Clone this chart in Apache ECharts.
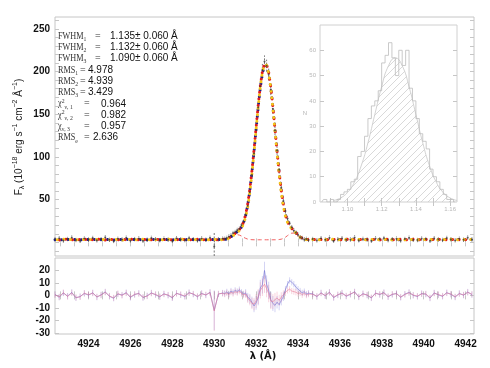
<!DOCTYPE html>
<html><head><meta charset="utf-8">
<script src="https://cdn.jsdelivr.net/npm/echarts@6/dist/echarts.min.js"></script>
<style>html,body{margin:0;padding:0;background:#fff}#c{width:490px;height:368px}</style>
</head><body><div id="c"></div>
<script>
// ---------------- data ----------------
const wave = [
4922.4,4922.6,4922.8,4923.0,4923.2,4923.4,4923.6,4923.8,4924.0,4924.2,
4924.4,4924.6,4924.8,4925.0,4925.2,4925.4,4925.6,4925.8,4926.0,4926.2,
4926.4,4926.6,4926.8,4927.0,4927.2,4927.4,4927.6,4927.8,4928.0,4928.2,
4928.4,4928.6,4928.8,4929.0,4929.2,4929.4,4929.6,4929.8,4930.0,4930.2,
4930.4,
4930.5,4930.6,4930.7,4930.8,4930.9,4931.0,4931.1,4931.2,4931.3,4931.4,
4931.5,4931.6,4931.7,4931.8,4931.9,4932.0,4932.1,4932.2,4932.3,4932.4,
4932.5,4932.6,4932.7,4932.8,4932.9,4933.0,4933.1,4933.2,4933.3,4933.4,
4933.5,4933.6,4933.7,4933.8,4933.9,4934.0,4934.1,4934.2,4934.3,4934.4,
4934.5,
4934.7,4934.9,4935.1,4935.3,4935.5,4935.7,4935.9,4936.1,4936.3,4936.5,
4936.7,4936.9,4937.1,4937.3,4937.5,4937.7,4937.9,4938.1,4938.3,4938.5,
4938.7,4938.9,4939.1,4939.3,4939.5,4939.7,4939.9,4940.1,4940.3,4940.5,
4940.7,4940.9,4941.1,4941.3,4941.5,4941.7,4941.9,4942.1,4942.3];

const fluxObs = [
3.5,4.8,2.1,3.9,5.6,2.7,1.8,4.4,3.2,5.1,2.4,3.7,6.0,2.9,1.6,4.1,3.3,5.4,2.2,3.8,
4.6,1.9,3.0,5.2,3.6,2.5,4.3,3.1,1.7,4.9,3.4,2.6,5.0,3.7,2.3,4.5,3.0,5.3,-5.0,3.6,4.2,
4.1,5.2,6.8,8.0,10.9,12.1,14.5,16.0,20.2,24.0,32.5,43.0,58.6,79.0,104.0,131.5,158.0,183.0,202.0,212.0,
207.0,196.5,179.0,156.5,131.0,107.5,85.0,64.0,48.5,36.8,28.0,22.5,17.5,14.0,11.3,8.9,6.0,5.1,3.4,4.0,2.8,
3.9,2.4,4.7,3.1,5.5,2.0,3.6,4.8,2.9,3.3,5.8,2.5,4.0,3.2,1.9,4.6,3.7,5.0,2.6,3.5,
4.3,2.2,3.9,5.4,3.0,2.7,4.4,3.8,1.8,4.9,3.3,2.8,5.1,3.6,2.4,4.2,3.0,5.6,3.4];

const fluxErr = [
2.5,2.5,2.5,2.5,2.5,2.5,2.5,2.5,2.5,2.5,2.5,2.5,2.5,2.5,2.5,2.5,2.5,2.5,2.5,2.5,
2.5,2.5,2.5,2.5,2.5,2.5,2.5,2.5,2.5,2.5,2.5,2.5,2.5,2.5,2.5,2.5,2.5,2.5,16,2.5,2.5,
2.5,2.5,2.5,2.5,2.5,2.5,2.5,2.5,2.5,2.5,3,3.5,4,4.5,5,5.5,6,6.5,7,7,
7,7,6.5,6,5.5,5,4.5,4,3.5,3,2.5,2.5,2.5,2.5,2.5,2.5,2.5,2.5,2.5,2.5,2.5,
2.5,2.5,2.5,2.5,2.5,2.5,2.5,2.5,2.5,2.5,2.5,2.5,2.5,2.5,2.5,2.5,2.5,2.5,2.5,2.5,
2.5,2.5,2.5,2.5,2.5,2.5,2.5,2.5,2.5,2.5,2.5,2.5,2.5,2.5,2.5,2.5,2.5,2.5,2.5];

const model1 = [
3.1,3.4,2.9,3.3,3.8,3.0,2.7,3.5,3.2,3.6,2.9,3.3,3.9,3.0,2.6,3.4,3.2,3.7,2.8,3.3,
3.5,2.7,3.1,3.6,3.3,2.9,3.4,3.1,2.7,3.6,3.2,2.9,3.7,3.3,2.8,3.5,3.1,3.6,3.0,3.3,3.4,
3.3,3.9,4.9,6.3,8.3,10.3,12.3,14.5,17.7,22.8,31.3,43.8,60.7,81.9,106.4,132.6,158.3,181.0,197.8,206.8,
206.8,197.8,181.0,158.3,132.6,106.4,82.1,61.1,44.6,32.6,24.8,20.0,16.8,14.1,11.5,8.8,6.4,4.8,3.8,3.3,3.1,
3.3,2.9,3.5,3.1,3.7,2.8,3.2,3.6,3.0,3.3,3.8,2.9,3.4,3.1,2.7,3.5,3.2,3.6,2.9,3.3,
3.4,2.8,3.2,3.7,3.1,3.0,3.5,3.3,2.7,3.6,3.2,3.0,3.6,3.3,2.9,3.4,3.1,3.7,3.2];

const model2 = [
3.6,2.8,3.3,3.9,3.0,2.6,3.4,3.7,2.9,3.2,3.8,3.1,2.7,3.5,3.3,2.9,3.6,3.0,3.4,3.9,
2.8,3.2,3.5,2.9,3.1,3.7,3.3,2.6,3.4,3.0,3.8,3.2,2.8,3.5,3.6,2.9,3.3,3.1,3.4,2.8,3.6,
3.5,4.0,5.1,6.5,8.6,10.6,12.6,14.9,18.3,23.6,32.4,45.2,62.4,83.8,108.5,134.9,160.7,183.5,200.3,209.0,
208.5,199.4,182.1,159.0,133.0,106.6,82.0,60.8,44.2,32.1,24.3,19.6,16.5,13.9,11.4,8.7,6.4,4.8,3.9,3.4,3.2,
3.0,3.6,3.2,2.8,3.4,3.5,2.9,3.1,3.7,3.2,3.0,3.5,2.8,3.3,3.6,3.1,2.9,3.4,3.8,3.0,
3.2,3.6,2.7,3.3,3.5,3.1,2.9,3.4,3.6,3.0,3.3,3.7,2.8,3.2,3.5,3.1,3.4,2.9,3.6];

const model3 = [
2.9,3.3,3.7,3.0,3.4,3.2,2.8,3.6,3.5,3.0,3.3,3.8,2.9,3.1,3.6,3.4,2.7,3.3,3.5,3.0,
3.2,3.7,2.9,3.4,3.1,3.5,2.8,3.6,3.3,3.0,3.4,3.7,3.1,2.9,3.5,3.2,3.6,2.8,3.3,3.5,3.0,
3.2,3.7,4.6,5.9,7.8,9.7,11.6,13.6,16.6,21.4,29.5,41.6,58.5,80.0,105.3,132.4,158.9,182.4,199.6,208.3,
207.5,198.0,180.4,156.8,130.2,103.6,79.2,58.0,41.9,30.5,23.2,18.9,16.0,13.5,11.0,8.4,6.1,4.6,3.7,3.2,3.0,
3.4,3.1,2.8,3.5,3.2,3.6,3.0,2.9,3.4,3.7,3.1,3.2,3.5,2.8,3.3,3.6,3.0,3.1,3.4,2.9,
3.7,3.2,3.0,3.5,3.3,2.8,3.6,3.1,3.4,3.2,2.9,3.5,3.0,3.7,3.3,2.8,3.4,3.1,3.5];

const compWave = [
4930.5,4930.6,4930.7,4930.8,4930.9,4931.0,4931.1,4931.2,4931.3,4931.4,
4931.5,4931.6,4931.7,4931.8,4931.9,4932.0,4932.1,4932.2,4932.3,4932.4,
4932.5,4932.6,4932.7,4932.8,4932.9,4933.0,4933.1,4933.2,4933.3,4933.4,
4933.5,4933.6,4933.7,4933.8,4933.9,4934.0,4934.1,4934.2,4934.3,4934.4,4934.5];
const compFlux = [
3.3,3.8,4.7,5.9,7.4,8.5,9.0,8.5,7.4,5.9,4.7,3.8,3.3,3.1,
3.0,3.0,3.0,3.0,3.0,3.0,3.0,3.0,3.0,3.0,3.0,3.0,
3.3,3.7,4.6,6.0,7.9,9.7,10.8,10.8,9.7,7.9,6.0,4.6,3.7,3.3,3.1];

const residBlue = [
0.8,-1.5,1.9,-0.6,2.4,-2.0,-0.9,1.5,0.2,2.1,-1.4,0.5,2.8,-0.8,-2.3,1.1,0.3,2.2,-1.6,0.6,
1.7,-1.8,-0.3,2.0,0.5,-1.2,1.3,0.0,-2.0,1.8,0.4,-0.9,2.3,0.9,-1.1,1.6,0.2,2.5,-12.0,1.0,1.9,
1.5,2.8,1.2,3.5,2.4,4.0,3.1,4.6,2.5,1.2,2.0,-1.5,-2.8,-5.5,-8.5,-6.0,-2.0,6.0,8.5,20.0,
9.0,4.0,-3.5,-6.5,-8.0,-5.5,-7.5,-4.0,-1.0,4.5,9.0,12.0,10.5,9.0,6.5,5.0,3.5,2.0,3.0,1.0,1.8,
1.2,-1.0,2.1,-0.4,2.6,-1.8,0.3,2.0,-0.7,0.8,2.9,-1.3,1.4,0.1,-2.1,1.9,0.6,2.3,-1.2,0.7,
1.6,-1.6,1.0,2.4,0.0,-0.9,1.5,0.9,-2.2,2.0,0.4,-0.8,2.2,0.8,-1.4,1.6,0.1,2.7,0.6];

const residRed = [
0.5,-1.2,2.2,-0.9,2.0,-1.7,-1.2,1.8,0.5,1.8,-1.1,0.2,2.5,-0.5,-2.0,1.4,0.0,1.9,-1.3,0.9,
1.4,-1.5,-0.6,1.7,0.8,-0.9,1.0,0.3,-1.7,1.5,0.7,-0.6,2.0,1.2,-0.8,1.3,0.5,2.2,-12.5,1.3,1.6,
1.0,2.0,0.5,2.6,1.5,3.0,2.2,3.4,1.5,0.4,1.0,-2.5,-4.0,-6.5,-7.0,-4.5,-1.0,4.0,6.5,9.0,
5.5,1.5,-4.5,-5.0,-3.5,-2.0,-4.0,-1.5,0.5,2.5,4.0,5.0,3.5,3.0,2.5,1.5,2.0,0.5,1.8,0.2,1.0,
0.9,-0.7,1.8,-0.1,2.3,-1.5,0.6,1.7,-0.4,1.1,2.6,-1.0,1.1,0.4,-1.8,1.6,0.9,2.0,-0.9,1.0,
1.3,-1.3,0.7,2.1,0.3,-0.6,1.2,1.2,-1.9,1.7,0.7,-0.5,1.9,1.1,-1.1,1.3,0.4,2.4,0.9];

const histBins = [
1.085,1.087,1.089,1.091,1.093,1.095,1.097,1.099,1.101,1.103,
1.105,1.107,1.109,1.111,1.113,1.115,1.117,1.119,1.121,1.123,
1.125,1.127,1.129,1.131,1.133,1.135,1.137,1.139,1.141,1.143,
1.145,1.147,1.149,1.151,1.153,1.155,1.157,1.159,1.161,1.163];
const histCounts = [
0,1,0,1,0,1,3,4,5,8,
9,18,20,26,33,38,40,44,55,58,
63,57,50,60,54,60,45,40,33,27,
24,21,13,10,8,5,3,1,1,0];
const fitX = [1.092,1.096,1.100,1.104,1.108,1.112,1.116,1.120,1.124,1.128,1.132,1.136,1.140,1.144,1.148,1.152,1.156,1.160,1.164];
const fitY = [0.6,1.6,3.7,7.7,14.2,23.4,34.6,45.6,53.9,57.0,53.9,45.6,34.6,23.4,14.2,7.7,3.7,1.6,0.6];

const xTickLabels = [4924,4926,4928,4930,4932,4934,4936,4938,4940,4942];
const yTopLabels = [50,100,150,200,250];
const yResLabels = [-30,-20,-10,0,10,20];
const insetXLabels = [1.10,1.12,1.14,1.16];
const insetYLabels = [0,10,20,30,40,50,60];

const statNames = ['FWHM{sb|1}','FWHM{sb|2}','FWHM{sb|3}','RMS{sb|1}','RMS{sb|2}','RMS{sb|3}',
  '\u03c7{sp|2}{sb|\u03bd, 1}','\u03c7{sp|2}{sb|\u03bd, 2}','\u03c7{sb|\u03bd, 3}','RMS{sb|e}'];
const statValues = ['1.135\u00b1 0.060 \u00c5','1.132\u00b1 0.060 \u00c5','1.090\u00b1 0.060 \u00c5',
  '4.978','4.939','3.429','0.964','0.982','0.957','2.636'];
const insetHeader = '\u03c3, \u03bc, #=  1000,  1.121,  0.0059';

// ---------------- layout / style ----------------
const FRAME = '#c6c6c6';
const LBL = {color:'#111', fontFamily:'"Liberation Sans", Arial, sans-serif', fontSize:10, fontWeight:'bold', formatter:v=>String(v)};
function ticks(a, b, s){ const r=[]; for(let v=a; v<=b+1e-9; v+=s) r.push(+v.toFixed(4)); return r; }
const xMinor = ticks(4922.6667, 4942.4, 2/3);
const yTopMinor = ticks(-10, 260, 10);
const yResMinor = ticks(-30, 25, 10);
const insXMinor = ticks(1.09, 1.16, 0.01);
const insYMinor = ticks(10, 60, 10);

function hatch(){
  const c=document.createElement('canvas'); c.width=7; c.height=7;
  const g=c.getContext('2d'); g.strokeStyle='#c8c8c8'; g.lineWidth=0.7;
  g.beginPath(); g.moveTo(0,7); g.lineTo(7,0); g.moveTo(-1,1); g.lineTo(1,-1); g.moveTo(6,8); g.lineTo(8,6); g.stroke();
  return c;
}

function errBars(stroke, width, dash){
  return function(params, api){
    const cs = params.coordSys;
    const x = api.value(0), lo = api.value(1), hi = api.value(2);
    const a = api.coord([x, lo]), b = api.coord([x, hi]);
    if (a[0] < cs.x || a[0] > cs.x + cs.width) return;
    const t = cs.y, bt = cs.y + cs.height;
    const y1 = Math.max(t, Math.min(bt, a[1])), y2 = Math.max(t, Math.min(bt, b[1]));
    return {type:'line', shape:{x1:a[0], y1:y1, x2:a[0], y2:y2}, style:{stroke:stroke, lineWidth:width, lineDash:dash}};
  };
}

function ax(grid, pos, min, max, tv, labels, lblStyle){
  return {gridIndex:grid, type:'value', position:pos, min:min, max:max,
    axisLine:{show:false}, splitLine:{show:false},
    axisTick:{show:true, inside:true, length:4, customValues:tv, lineStyle:{color:FRAME}},
    axisLabel: labels ? Object.assign({show:true, customValues:labels, margin:5}, lblStyle) : {show:false}};
}

const pair = (xs, ys) => xs.map((x,i)=>[x, ys[i]]);
const errData = (xs, ys, es) => xs.map((x,i)=>[x, ys[i]-es[i], ys[i]+es[i]]);

const INS = {color:'#b8b8b8', fontSize:6, fontFamily:'"Liberation Sans", Arial, sans-serif'};

const chart = echarts.init(document.getElementById('c'), null, {renderer:'canvas', width:490, height:368});

const graphics = [];
const eqXs = [95,95,95,80,80,80,84,84,84,84];
const valXs = [110,110,110,88,88,88,101,101,101,93];
statNames.forEach((n,i)=>{
  const y = 36 + i*11.3;
  graphics.push({type:'text', x:58, y:y, scaleX:0.82, style:{text:n, fill:'#333', textVerticalAlign:'middle',
    font:'10px "Liberation Serif", serif',
    rich:{sb:{fontSize:7, fontFamily:'"Liberation Serif", serif', verticalAlign:'bottom', lineHeight:13, fill:'#333'},
          sp:{fontSize:7, fontFamily:'"Liberation Serif", serif', verticalAlign:'top', lineHeight:13, fill:'#333'}}}});
  graphics.push({type:'text', x:eqXs[i], y:y, style:{text:'=', fill:'#333', textVerticalAlign:'middle', font:'10px "Liberation Serif", serif'}});
  graphics.push({type:'text', x:valXs[i], y:y, style:{text:statValues[i], fill:'#111', textVerticalAlign:'middle', font:'10px "Liberation Sans", Arial, sans-serif'}});
});
graphics.push({type:'text', x:19, y:137, rotation:Math.PI/2, style:{
  text:'{a|F}{b|\u03bb}{a| (10}{c|\u221218}{a| erg s}{c|\u22121}{a| cm}{c|\u22122}{a| \u00c5}{c|\u22121}{a|)}',
  textAlign:'center', textVerticalAlign:'middle',
  rich:{a:{fontSize:10, fontFamily:'"Liberation Sans", Arial, sans-serif', lineHeight:14, fill:'#222'},
        b:{fontSize:7, fontFamily:'"Liberation Sans", Arial, sans-serif', lineHeight:14, verticalAlign:'bottom', fill:'#222'},
        c:{fontSize:7, fontFamily:'"Liberation Sans", Arial, sans-serif', lineHeight:14, verticalAlign:'top', fill:'#222'}}}});
graphics.push({type:'text', x:263, y:356, style:{text:'\u03bb (\u00c5)', textAlign:'center', textVerticalAlign:'middle', fill:'#111', font:'bold 10px "DejaVu Sans", sans-serif'}});
graphics.push({type:'text', x:323, y:29, style:{text:insetHeader, fill:'#b4b4b4', textVerticalAlign:'middle', font:'6px "Liberation Sans", Arial, sans-serif'}});
graphics.push({type:'text', x:305, y:113, style:{text:'N', fill:'#b4b4b4', textAlign:'center', textVerticalAlign:'middle', font:'6px "Liberation Sans", Arial, sans-serif'}});

function dotted(data, color, offset){
  return {type:'line', xAxisIndex:0, yAxisIndex:0, data:data, showSymbol:false, z:3, silent:true,
    lineStyle:{color:color, width:3, type:[0.01, 6.6], dashOffset:offset, cap:'round'}};
}

chart.setOption({
  animation:false,
  backgroundColor:'#fff',
  grid:[
    {left:55, top:17, width:419, height:239, show:true, borderColor:FRAME, borderWidth:1, backgroundColor:'transparent'},
    {left:55, top:258, width:419, height:76, show:true, borderColor:FRAME, borderWidth:1, backgroundColor:'transparent'},
    {left:320, top:25, width:137, height:177, show:true, borderColor:'#d0d0d0', borderWidth:1, backgroundColor:'#fff', z:5}
  ],
  xAxis:[
    ax(0,'bottom',4922.4,4942.4,xMinor,null),
    ax(0,'top',4922.4,4942.4,xMinor,null),
    ax(1,'bottom',4922.4,4942.4,xMinor,xTickLabels,LBL),
    ax(1,'top',4922.4,4942.4,xMinor,null),
    Object.assign(ax(2,'bottom',1.084,1.164,insXMinor,insetXLabels,Object.assign({formatter:v=>v.toFixed(2), margin:4},INS)),{z:5}),
    Object.assign(ax(2,'top',1.084,1.164,insXMinor,null),{z:5})
  ],
  yAxis:[
    ax(0,'left',-16,264,yTopMinor,yTopLabels,LBL),
    ax(0,'right',-16,264,yTopMinor,null),
    ax(1,'left',-31,30,yResMinor,yResLabels,LBL),
    ax(1,'right',-31,30,yResMinor,null),
    Object.assign(ax(2,'left',0,70,insYMinor,insetYLabels,Object.assign({margin:4, formatter:v=>String(v)},INS)),{z:5}),
    Object.assign(ax(2,'right',0,70,insYMinor,null),{z:5})
  ],
  graphic:{elements:graphics},
  series:[
    {type:'custom', xAxisIndex:0, yAxisIndex:0, data:errData(wave, fluxObs, fluxErr), encode:{x:0,y:[1,2]},
      renderItem:errBars('#555',0.8,[2,1.5]), z:2, silent:true},
    {type:'line', xAxisIndex:0, yAxisIndex:0, data:pair(compWave, compFlux), showSymbol:false,
      lineStyle:{color:'#f06060', width:1, type:[4,3]}, z:2, silent:true},
    dotted(pair(wave, model1), '#1c1c8a', 0),
    dotted(pair(wave, model2), '#e31a1c', 2.2),
    dotted(pair(wave, model3), '#f5c518', 4.4),
    {type:'scatter', xAxisIndex:0, yAxisIndex:0, data:pair(wave, fluxObs), symbolSize:2, itemStyle:{color:'#333'}, z:4, silent:true},

    {type:'custom', xAxisIndex:2, yAxisIndex:2, data:errData(wave, residBlue, fluxErr), encode:{x:0,y:[1,2]},
      renderItem:errBars('rgba(120,120,220,0.4)',0.8,null), z:2, silent:true},
    {type:'custom', xAxisIndex:2, yAxisIndex:2, data:errData(wave, residRed, fluxErr), encode:{x:0,y:[1,2]},
      renderItem:errBars('rgba(235,120,150,0.4)',0.8,null), z:2, silent:true},
    {type:'line', xAxisIndex:2, yAxisIndex:2, data:pair(wave, residBlue), showSymbol:false,
      lineStyle:{color:'rgba(110,110,210,0.75)', width:0.8}, z:3, silent:true},
    {type:'line', xAxisIndex:2, yAxisIndex:2, data:pair(wave, residRed), showSymbol:false,
      lineStyle:{color:'rgba(230,120,150,0.75)', width:0.8}, z:3, silent:true},

    {type:'line', xAxisIndex:4, yAxisIndex:4, data:pair(fitX, fitY), smooth:true, showSymbol:false,
      lineStyle:{color:'#c8c8c8', width:0.8}, areaStyle:{color:{image:hatch(), repeat:'repeat'}, opacity:1}, z:6, silent:true},
    {type:'line', xAxisIndex:4, yAxisIndex:4, data:pair(histBins, histCounts), step:'middle', showSymbol:false,
      lineStyle:{color:'#bdbdbd', width:0.8}, z:7, silent:true}
  ]
});
</script>
</body></html>
